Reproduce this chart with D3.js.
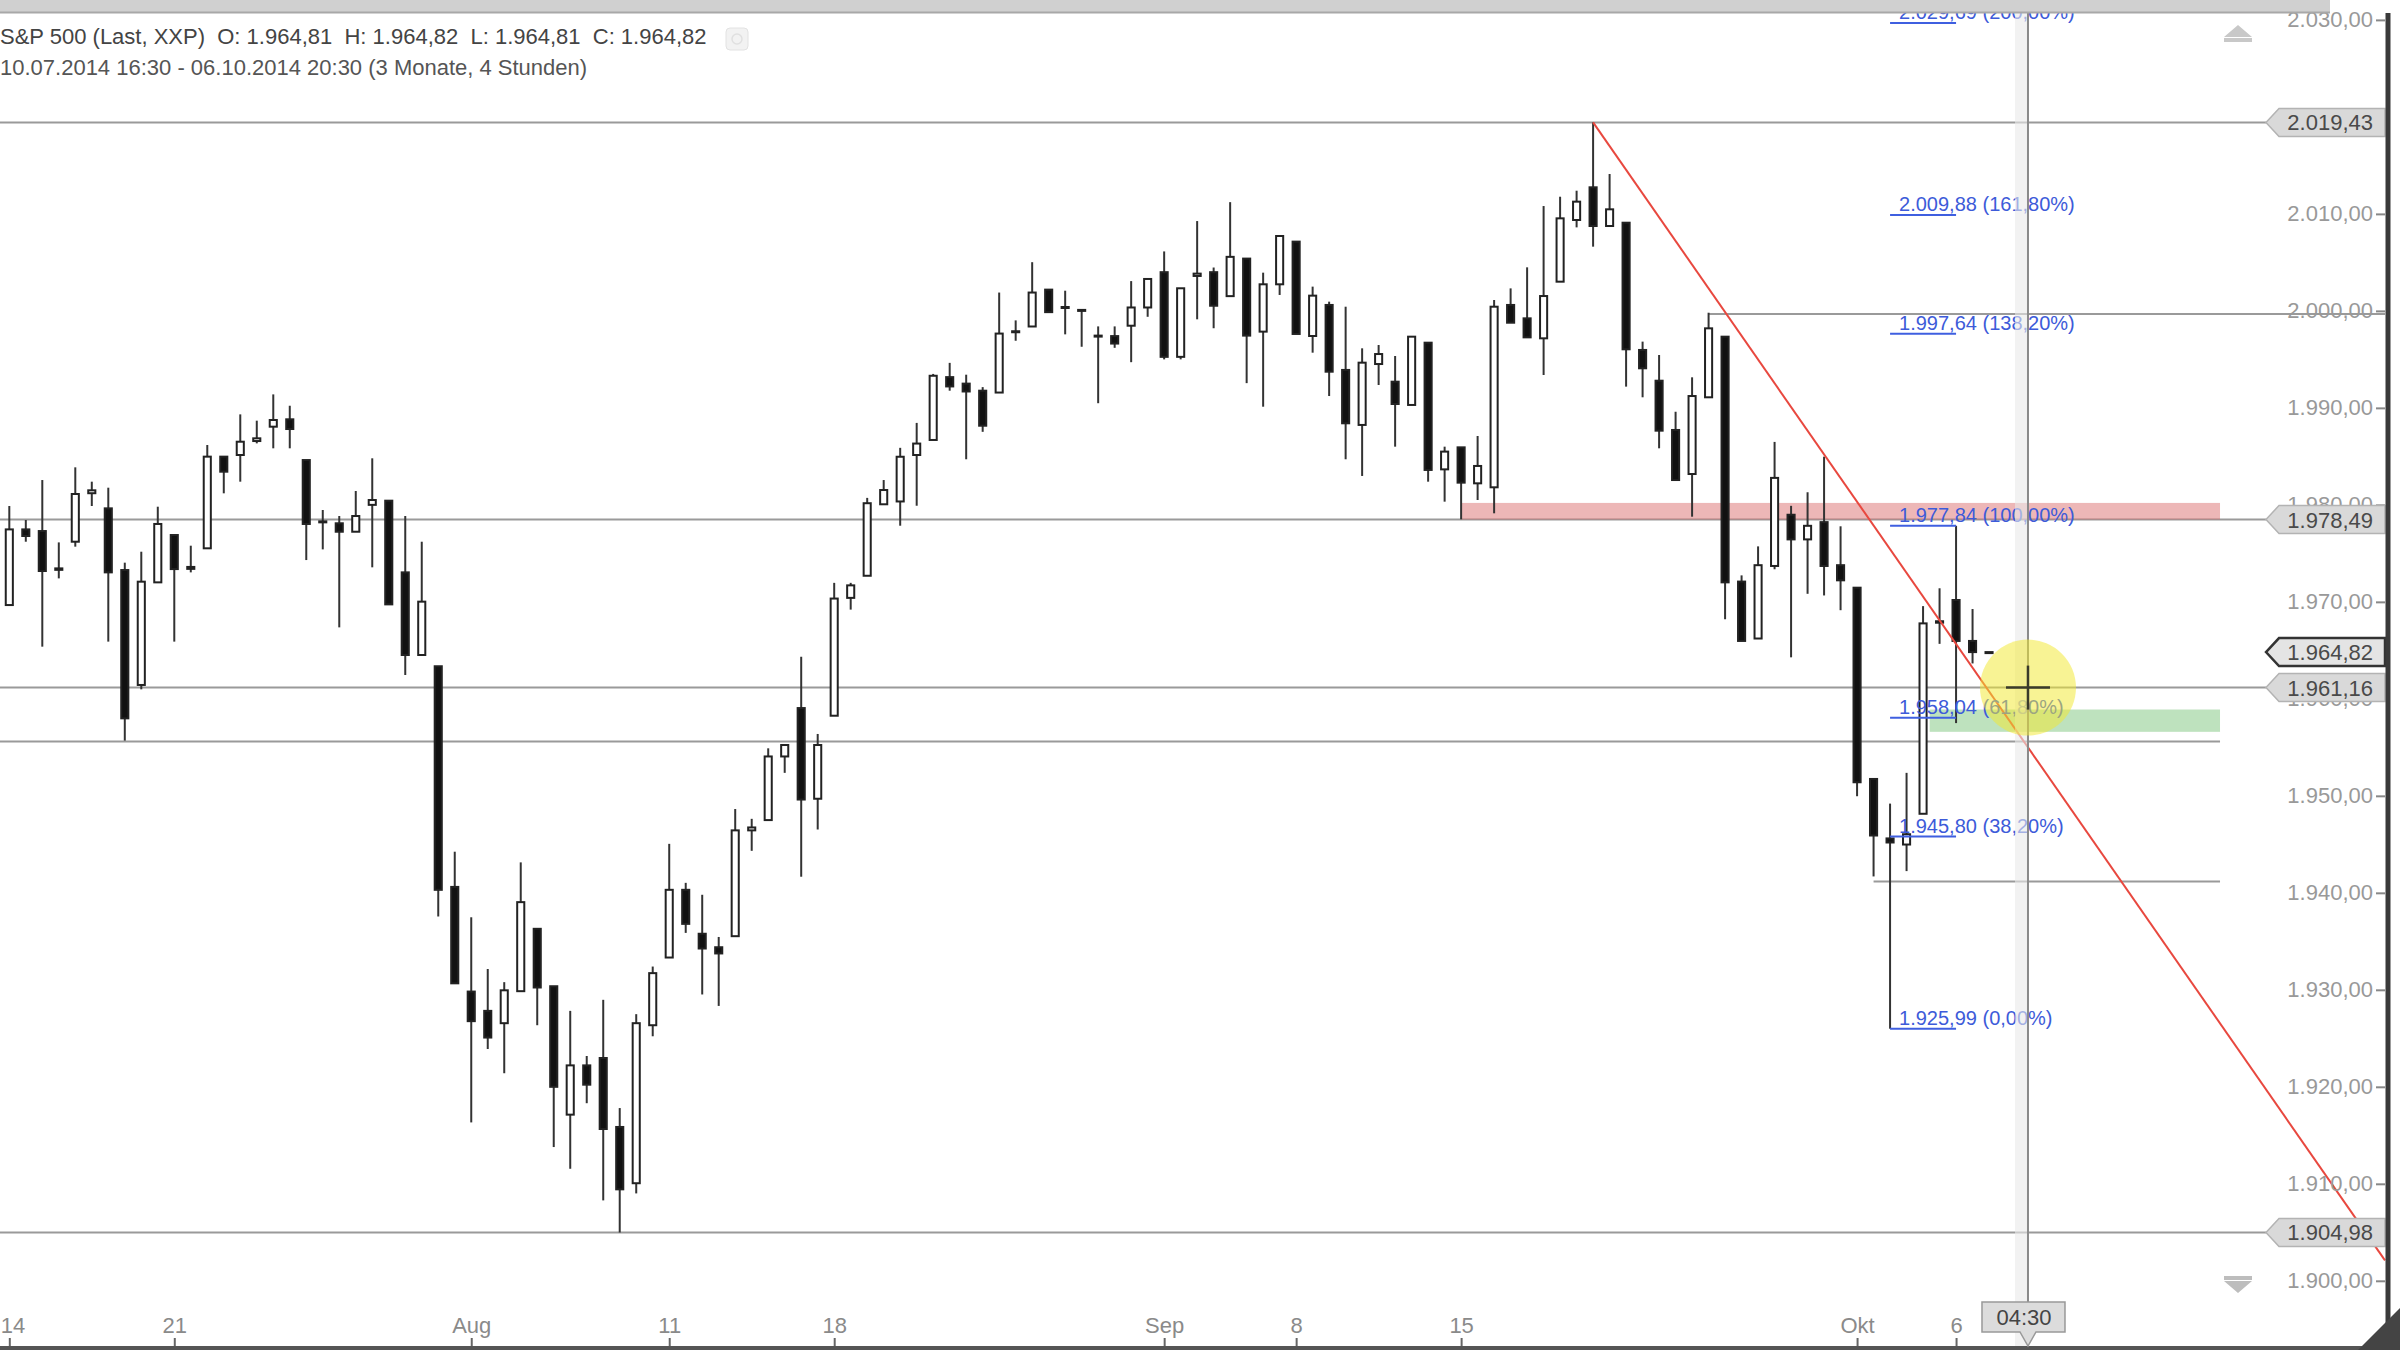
<!DOCTYPE html>
<html>
<head>
<meta charset="utf-8">
<script src="https://cdn.jsdelivr.net/npm/d3@7"></script>
<style>
  html, body { margin: 0; padding: 0; background: #fff; }
  svg { display: block; font-family: "Liberation Sans", Arial, sans-serif; }
</style>
</head>
<body>
<div id="chart"></div>
<script>
// Trading days shown (two 4h bars per day, one extra bar at the end)
const tradingDays = [
    '2014-07-14', '2014-07-15', '2014-07-16', '2014-07-17', '2014-07-18',
    '2014-07-21', '2014-07-22', '2014-07-23', '2014-07-24', '2014-07-25',
    '2014-07-28', '2014-07-29', '2014-07-30', '2014-07-31', '2014-08-01',
    '2014-08-04', '2014-08-05', '2014-08-06', '2014-08-07', '2014-08-08',
    '2014-08-11', '2014-08-12', '2014-08-13', '2014-08-14', '2014-08-15',
    '2014-08-18', '2014-08-19', '2014-08-20', '2014-08-21', '2014-08-22',
    '2014-08-25', '2014-08-26', '2014-08-27', '2014-08-28', '2014-08-29',
    '2014-09-02', '2014-09-03', '2014-09-04', '2014-09-05',
    '2014-09-08', '2014-09-09', '2014-09-10', '2014-09-11', '2014-09-12',
    '2014-09-15', '2014-09-16', '2014-09-17', '2014-09-18', '2014-09-19',
    '2014-09-22', '2014-09-23', '2014-09-24', '2014-09-25', '2014-09-26',
    '2014-09-29', '2014-09-30', '2014-10-01', '2014-10-02', '2014-10-03',
    '2014-10-06'
];

const open = [
    1969.67, 1977.47, 1977.30, 1973.45, 1976.20, 1981.20, 1979.64, 1973.28, 1961.43, 1972.01,
    1976.89, 1973.60, 1975.52, 1984.97, 1985.14, 1986.58, 1988.06, 1988.82, 1984.62, 1978.20,
    1978.10, 1977.23, 1980.00, 1980.43, 1973.04, 1964.52, 1963.36, 1940.61, 1929.82, 1927.83,
    1926.56, 1929.86, 1936.29, 1930.37, 1917.13, 1922.21, 1922.97, 1915.86, 1910.06, 1926.35,
    1933.33, 1940.31, 1935.78, 1934.39, 1935.53, 1946.44, 1947.50, 1954.06, 1959.05, 1949.70,
    1958.26, 1970.41, 1972.69, 1980.06, 1980.35, 1985.14, 1986.69, 1993.17, 1992.50, 1991.77,
    1991.58, 1997.80, 1998.39, 2002.19, 2000.30, 2000.10, 1997.45, 1997.40, 1998.47, 2000.35,
    2003.99, 1995.26, 2003.60, 2003.99, 2001.52, 2005.39, 1997.86, 2002.74, 2007.14, 1997.41,
    2000.61, 1993.91, 1988.24, 1994.52, 1992.70, 1990.30, 1996.72, 1983.66, 1985.93, 1982.22,
    1981.81, 2000.61, 1999.23, 1997.17, 2003.01, 2009.37, 2012.74, 2008.75, 2009.09, 1995.97,
    1992.80, 1987.72, 1983.18, 1991.09, 1997.34, 1972.09, 1966.22, 1973.70, 1978.98, 1976.44,
    1978.22, 1973.78, 1971.46, 1951.74, 1945.61, 1944.98, 1948.15, 1967.85, 1970.19, 1965.97,
    1964.81
];
const high = [
    1979.88, 1978.44, 1982.56, 1976.13, 1983.87, 1982.39, 1981.77, 1974.04, 1975.17, 1979.81,
    1976.89, 1975.79, 1986.17, 1984.97, 1989.33, 1988.68, 1991.39, 1990.22, 1984.62, 1979.47,
    1978.85, 1981.43, 1984.80, 1980.43, 1978.85, 1976.20, 1963.36, 1944.24, 1937.48, 1932.15,
    1930.79, 1943.14, 1936.29, 1930.37, 1927.83, 1923.18, 1928.97, 1917.81, 1927.49, 1932.40,
    1945.05, 1941.03, 1939.80, 1935.45, 1948.64, 1947.63, 1954.90, 1955.24, 1964.34, 1956.38,
    1971.96, 1971.96, 1980.72, 1982.56, 1985.88, 1988.45, 1993.50, 1994.64, 1993.42, 1992.14,
    2001.89, 1999.02, 2005.02, 2002.19, 2002.08, 2000.10, 1998.40, 1998.40, 2003.07, 2003.29,
    2006.13, 2002.33, 2009.26, 2004.47, 2011.21, 2005.39, 2003.94, 2007.72, 2007.14, 2002.50,
    2000.95, 2000.43, 1996.14, 1996.48, 1995.35, 1997.34, 1996.72, 1986.00, 1985.93, 1987.10,
    2001.12, 2002.32, 2004.49, 2010.81, 2011.77, 2012.39, 2019.43, 2014.11, 2009.09, 1996.83,
    1995.45, 1989.60, 1993.15, 1999.81, 1997.34, 1972.73, 1975.72, 1986.49, 1979.90, 1981.30,
    1984.97, 1977.79, 1971.46, 1951.74, 1949.20, 1952.37, 1969.56, 1971.40, 1977.84, 1969.26,
    1964.82
];
const low = [
    1969.67, 1976.20, 1965.38, 1972.42, 1975.69, 1979.88, 1965.90, 1955.69, 1960.98, 1972.01,
    1965.90, 1973.04, 1975.52, 1981.19, 1982.39, 1986.34, 1985.83, 1985.83, 1974.31, 1975.41,
    1967.37, 1977.23, 1973.56, 1969.74, 1962.46, 1964.52, 1937.56, 1930.67, 1916.33, 1923.90,
    1921.40, 1929.86, 1926.35, 1913.79, 1911.55, 1918.31, 1908.29, 1904.98, 1909.01, 1925.21,
    1933.33, 1935.87, 1929.52, 1928.34, 1935.53, 1944.33, 1947.50, 1952.37, 1941.66, 1946.53,
    1958.26, 1969.20, 1972.69, 1980.06, 1977.85, 1979.91, 1986.69, 1991.77, 1984.70, 1987.53,
    1991.58, 1996.92, 1998.39, 1999.87, 1997.58, 1996.30, 1990.48, 1996.19, 1994.71, 1999.39,
    1995.00, 1995.00, 1999.13, 1998.21, 2001.52, 1992.55, 1990.12, 2001.64, 1997.62, 1995.69,
    1991.22, 1984.70, 1982.98, 1992.36, 1986.00, 1990.30, 1982.39, 1980.33, 1978.51, 1980.50,
    1979.13, 1998.78, 1997.27, 1993.39, 2003.01, 2008.61, 2006.62, 2008.75, 1992.19, 1991.09,
    1985.83, 1982.50, 1978.78, 1991.09, 1968.21, 1965.97, 1966.22, 1973.36, 1964.28, 1970.83,
    1970.66, 1969.14, 1949.96, 1941.69, 1925.99, 1942.24, 1948.15, 1965.67, 1957.50, 1963.65,
    1964.81
];
const close = [
    1977.47, 1976.79, 1973.18, 1973.30, 1981.12, 1981.50, 1973.04, 1957.99, 1972.08, 1978.03,
    1973.38, 1973.40, 1984.97, 1983.42, 1986.51, 1986.86, 1988.75, 1987.82, 1978.03, 1978.30,
    1977.23, 1978.85, 1980.50, 1969.74, 1964.52, 1970.02, 1940.31, 1930.67, 1926.77, 1925.08,
    1929.95, 1939.04, 1930.24, 1920.00, 1922.21, 1920.22, 1915.65, 1909.43, 1926.56, 1931.72,
    1940.31, 1936.80, 1934.26, 1933.75, 1946.44, 1946.74, 1954.06, 1955.24, 1949.62, 1955.24,
    1970.34, 1971.70, 1980.17, 1981.53, 1984.96, 1986.32, 1993.31, 1992.21, 1991.69, 1988.16,
    1997.66, 1997.90, 2001.89, 1999.87, 2000.40, 2000.00, 1997.35, 1996.63, 2000.35, 2003.29,
    1995.26, 2002.33, 2003.84, 2000.53, 2005.57, 1997.45, 2002.74, 2007.72, 1997.62, 2001.57,
    1993.73, 1988.41, 1994.66, 1995.55, 1990.40, 1997.34, 1983.60, 1985.49, 1982.29, 1984.01,
    2000.43, 1998.78, 1997.27, 2001.53, 2009.54, 2011.26, 2008.75, 2010.47, 1996.04, 1994.08,
    1987.65, 1982.56, 1991.22, 1998.20, 1972.01, 1965.97, 1973.78, 1982.78, 1976.44, 1977.84,
    1973.70, 1972.22, 1951.40, 1945.91, 1945.19, 1946.04, 1967.78, 1968.00, 1965.97, 1964.82,
    1964.82
];

// X axis labels (first bar of these days)
const tickDays = ['2014-07-14', '2014-07-21', '2014-08-01', '2014-08-11', '2014-08-18',
    '2014-09-02', '2014-09-08', '2014-09-15', '2014-10-01', '2014-10-06'];
const tickLabels = ['14', '21', 'Aug', '11', '18', 'Sep', '8', '15', 'Okt', '6'];

// Price axis ticks (2.020,00 sits fully under the 2.019,43 marker)
const priceTicks = [1900, 1910, 1920, 1930, 1940, 1950, 1960, 1970, 1980, 1990, 2000, 2010, 2030];

// Drawn objects
const markedPrices = [2019.43, 1978.49, 1961.16, 1904.98];
const supportLines = [
    { price: 1955.60, from: -1, to: 134 },
    { price: 1999.68, from: 103, to: 144 },
    { price: 1941.18, from: 113, to: 134 }
];
const zones = [
    { from: 88, to: 134, lo: 1978.49, hi: 1980.20, color: 'rgba(214, 96, 96, 0.45)' },
    { from: 116.4, to: 134, lo: 1956.60, hi: 1958.90, color: 'rgba(110, 190, 110, 0.45)' }
];
const fibPrices = [1925.99, 1945.80, 1958.04, 1977.84, 1997.64, 2009.88, 2029.69];
const fibPercents = [0, 38.2, 61.8, 100, 138.2, 161.8, 200];
const fibFrom = 114, fibTo = 118;
const trendStart = { i: 96, p: 2019.43 };
const trendEnd = { i: 144, p: 1902.10 };
const crosshair = { i: 122.36, p: 1961.16, time: '04:30' };

const W = 2400, H = 1350;
const axisX = 2385;
const boxLeft = 2266;

const de = d3.formatLocale({ decimal: ',', thousands: '.', grouping: [3], currency: ['', ''] });
const fmtPrice = de.format(',.2f');
const fmtPct = de.format('.2f');

const bars = open.map((o, i) => ({ i, o, h: high[i], l: low[i], c: close[i] }));
const last = bars[bars.length - 1];

const x = d3.scaleLinear().domain([-0.564, 144]).range([0, axisX]);
const y = d3.scaleLinear().domain([1900, 2030]).range([1280.8, 19.9]);
const step = x(1) - x(0);
const bodyW = step * 0.43;

const svg = d3.select('#chart').append('svg')
    .attr('width', W)
    .attr('height', H);

svg.append('rect').attr('width', W).attr('height', H).attr('fill', '#fff');

// Horizontal marker lines
svg.append('g')
    .selectAll('line')
    .data(markedPrices)
    .join('line')
    .attr('x1', 0)
    .attr('x2', boxLeft)
    .attr('y1', d => y(d))
    .attr('y2', d => y(d))
    .attr('stroke', '#9a9a9a')
    .attr('stroke-width', 2);

svg.append('g')
    .selectAll('line')
    .data(supportLines)
    .join('line')
    .attr('x1', d => x(d.from))
    .attr('x2', d => x(d.to))
    .attr('y1', d => y(d.price))
    .attr('y2', d => y(d.price))
    .attr('stroke', '#9a9a9a')
    .attr('stroke-width', 2);

// Zones
svg.append('g')
    .selectAll('rect')
    .data(zones)
    .join('rect')
    .attr('x', d => x(d.from))
    .attr('width', d => x(d.to) - x(d.from))
    .attr('y', d => y(d.hi))
    .attr('height', d => y(d.lo) - y(d.hi))
    .attr('fill', d => d.color);

// Candles
const candles = svg.append('g')
    .selectAll('g')
    .data(bars)
    .join('g');

candles.append('line')
    .attr('x1', d => x(d.i))
    .attr('x2', d => x(d.i))
    .attr('y1', d => y(d.h))
    .attr('y2', d => y(d.l))
    .attr('stroke', '#333')
    .attr('stroke-width', 2);

candles.append('rect')
    .attr('x', d => x(d.i) - bodyW / 2)
    .attr('y', d => y(Math.max(d.o, d.c)))
    .attr('width', bodyW)
    .attr('height', d => Math.max(1, Math.abs(y(d.o) - y(d.c))))
    .attr('fill', d => d.c >= d.o ? '#fff' : '#111')
    .attr('stroke', '#222')
    .attr('stroke-width', 2);

// Trend line
svg.append('line')
    .attr('x1', x(trendStart.i))
    .attr('y1', y(trendStart.p))
    .attr('x2', x(trendEnd.i))
    .attr('y2', y(trendEnd.p))
    .attr('stroke', '#e8483f')
    .attr('stroke-width', 2);

// Fibonacci levels
const fib = svg.append('g')
    .selectAll('g')
    .data(fibPrices.map((p, k) => ({ p, pct: fibPercents[k] })))
    .join('g');

fib.append('line')
    .attr('x1', x(fibFrom))
    .attr('x2', x(fibTo))
    .attr('y1', d => y(d.p))
    .attr('y2', d => y(d.p))
    .attr('stroke', '#3f5fe0')
    .attr('stroke-width', 2);

fib.append('text')
    .attr('x', x(fibFrom) + 9)
    .attr('y', d => y(d.p) - 4)
    .attr('fill', '#3d5bd9')
    .style('font-size', '20px')
    .style('white-space', 'pre')
    .text(d => `${fmtPrice(d.p)} (${fmtPct(d.pct)}%)`);

// Crosshair
const cx = x(crosshair.i), cy = y(crosshair.p);
svg.append('rect')
    .attr('x', cx - 13)
    .attr('y', 13)
    .attr('width', 13)
    .attr('height', H - 17)
    .attr('fill', '#e9e9e9')
    .attr('opacity', 0.6);
svg.append('line')
    .attr('x1', cx).attr('x2', cx)
    .attr('y1', 13).attr('y2', H - 4)
    .attr('stroke', '#8a8a8a')
    .attr('stroke-width', 2);

svg.append('circle')
    .attr('cx', cx)
    .attr('cy', cy)
    .attr('r', 48)
    .attr('fill', 'rgba(242, 232, 50, 0.52)');

svg.append('g')
    .attr('stroke', '#3a3a2a')
    .attr('stroke-width', 2.5)
    .call(g => g.append('line').attr('x1', cx - 22).attr('x2', cx + 22).attr('y1', cy).attr('y2', cy))
    .call(g => g.append('line').attr('x1', cx).attr('x2', cx).attr('y1', cy - 22).attr('y2', cy + 22));

// Right price axis
const yAxis = d3.axisLeft(y)
    .tickValues(priceTicks)
    .tickSize(9)
    .tickPadding(3)
    .tickFormat(fmtPrice);

svg.append('g')
    .attr('transform', `translate(${axisX},0)`)
    .call(yAxis)
    .call(g => g.select('.domain').remove())
    .call(g => g.selectAll('line').attr('stroke', '#888').attr('stroke-width', 2))
    .call(g => g.selectAll('text')
        .attr('fill', '#999')
        .style('font-family', '"Liberation Sans", Arial, sans-serif')
        .style('font-size', '22px'));

// Price boxes on the axis
const boxes = markedPrices.map(p => ({ p, current: false }))
    .concat([{ p: last.c, current: true }]);

const box = svg.append('g')
    .selectAll('g')
    .data(boxes)
    .join('g')
    .attr('transform', d => `translate(0,${y(d.p)})`);

box.append('path')
    .attr('d', `M${boxLeft},0 L${boxLeft + 13},-14 L${axisX},-14 L${axisX},14 L${boxLeft + 13},14 Z`)
    .attr('fill', d => d.current ? '#e4e4e4' : '#d9d9d9')
    .attr('stroke', d => d.current ? '#333' : '#b3b3b3')
    .attr('stroke-width', d => d.current ? 2.5 : 1.5);

box.append('text')
    .attr('x', axisX - 12)
    .attr('y', 8)
    .attr('text-anchor', 'end')
    .attr('fill', '#4a4a4a')
    .style('font-size', '22px')
    .text(d => fmtPrice(d.p));

// Axis line
svg.append('line')
    .attr('x1', axisX + 3).attr('x2', axisX + 3)
    .attr('y1', 13).attr('y2', H)
    .attr('stroke', '#3a3a3a')
    .attr('stroke-width', 5);

// Scroll arrows
svg.append('path')
    .attr('d', 'M2224,37 L2252,37 L2238,25 Z M2224,38 h28 v4 h-28 Z')
    .attr('fill', '#c8c8c8');
svg.append('path')
    .attr('d', 'M2224,1276 h28 v4 h-28 Z M2224,1281 L2252,1281 L2238,1293 Z')
    .attr('fill', '#bdbdbd');

// Time axis
const xAxis = d3.axisTop(x)
    .tickValues(tickDays.map(d => 2 * tradingDays.indexOf(d)))
    .tickSize(10)
    .tickPadding(5)
    .tickFormat((d, k) => tickLabels[k]);

svg.append('g')
    .attr('transform', `translate(0,${H - 2})`)
    .call(xAxis)
    .call(g => g.select('.domain').remove())
    .call(g => g.selectAll('line').attr('stroke', '#666').attr('stroke-width', 2))
    .call(g => g.selectAll('text')
        .attr('fill', '#8a8a8a')
        .style('font-family', '"Liberation Sans", Arial, sans-serif')
        .style('font-size', '22px'))
    .call(g => g.select('.tick text').attr('text-anchor', 'start').attr('x', -9));

svg.append('line')
    .attr('x1', 0).attr('x2', W)
    .attr('y1', H - 2).attr('y2', H - 2)
    .attr('stroke', '#555')
    .attr('stroke-width', 4);

// Crosshair time label
svg.append('path')
    .attr('d', `M${cx - 46},1302 h83 v30 h-29 l-8,14 l-8,-14 h-38 Z`)
    .attr('fill', '#dcdcdc')
    .attr('stroke', '#999')
    .attr('stroke-width', 1.5);
svg.append('text')
    .attr('x', cx - 4)
    .attr('y', 1325)
    .attr('text-anchor', 'middle')
    .attr('fill', '#444')
    .style('font-size', '22px')
    .text(crosshair.time);

// Resize grip
svg.append('path')
    .attr('d', `M${W - 42},${H} L${W},${H} L${W},${H - 42} Z`)
    .attr('fill', '#444');

// Header
svg.append('rect').attr('x', 0).attr('y', 0).attr('width', 2330).attr('height', 12).attr('fill', '#d0d0d0');
svg.append('line').attr('x1', 0).attr('x2', 2330).attr('y1', 12.5).attr('y2', 12.5)
    .attr('stroke', '#a8a8a8').attr('stroke-width', 2);

svg.append('text')
    .attr('x', 0)
    .attr('y', 44)
    .attr('fill', '#444')
    .style('font-size', '22px')
    .style('white-space', 'pre')
    .text(`S&P 500 (Last, XXP)  O: ${fmtPrice(last.o)}  H: ${fmtPrice(last.h)}  L: ${fmtPrice(last.l)}  C: ${fmtPrice(last.c)}`);

svg.append('rect')
    .attr('x', 726).attr('y', 28).attr('width', 22).attr('height', 22).attr('rx', 4)
    .attr('fill', '#f2f2f2').attr('stroke', '#e2e2e2');
svg.append('circle').attr('cx', 737).attr('cy', 39).attr('r', 5)
    .attr('fill', 'none').attr('stroke', '#e0e0e0').attr('stroke-width', 1.5);

svg.append('text')
    .attr('x', 0)
    .attr('y', 75)
    .attr('fill', '#555')
    .style('font-size', '22px')
    .text('10.07.2014 16:30 - 06.10.2014 20:30 (3 Monate, 4 Stunden)');
</script>
</body>
</html>
